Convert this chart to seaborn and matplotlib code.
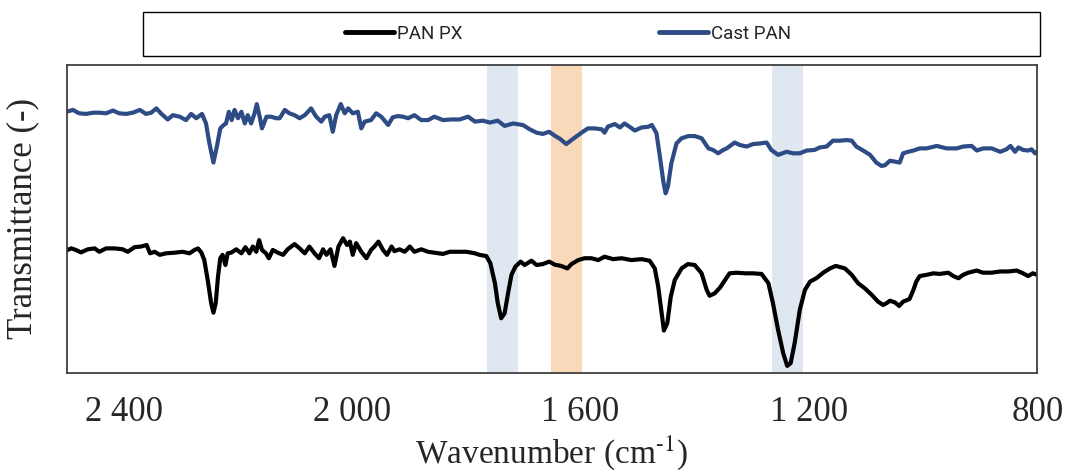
import numpy as np
import pandas as pd
import matplotlib
matplotlib.use("Agg")
import matplotlib.pyplot as plt
import seaborn as sns
from matplotlib.ticker import FixedLocator, FuncFormatter
from matplotlib.patches import Rectangle
from matplotlib.lines import Line2D

# Cast PAN spectrum (wavenumber, transmittance, arbitrary offset scale)
cast_wn = [2501, 2489, 2478, 2466, 2454, 2443, 2431, 2419, 2408, 2396, 2384, 2372, 2361, 2352, 2343, 2334,
           2323, 2314, 2302, 2291, 2282, 2273, 2263, 2256, 2250, 2243, 2237, 2231, 2225, 2221, 2216, 2211,
           2206, 2200, 2194, 2188, 2183, 2177, 2171, 2167, 2162, 2158, 2150, 2142, 2133, 2127, 2118, 2110,
           2101, 2092, 2083, 2072, 2063, 2054, 2048, 2040, 2034, 2028, 2020, 2013, 2007, 1999, 1990, 1984,
           1978, 1967, 1958, 1949, 1937, 1929, 1920, 1911, 1902, 1891, 1879, 1867, 1856, 1841, 1826, 1812,
           1797, 1785, 1771, 1759, 1745, 1733, 1718, 1701, 1689, 1677, 1666, 1655, 1645, 1636, 1625, 1616,
           1604, 1596, 1587, 1575, 1563, 1558, 1552, 1540, 1531, 1523, 1514, 1505, 1493, 1482, 1475, 1467,
           1461, 1455, 1451, 1447, 1441, 1432, 1423, 1411, 1400, 1388, 1376, 1368, 1359, 1350, 1344, 1330,
           1321, 1309, 1298, 1286, 1274, 1266, 1254, 1239, 1228, 1216, 1204, 1190, 1181, 1169, 1158, 1146,
           1134, 1125, 1117, 1105, 1093, 1082, 1073, 1067, 1058, 1049, 1041, 1035, 1026, 1017, 1006, 994,
           976, 959, 941, 930, 915, 906, 895, 880, 865, 854, 847, 839, 833, 825, 816, 810, 804, 800]
cast_t = [84.8, 85.4, 84.3, 84.1, 84.5, 84.5, 84.3, 85.2, 84.3, 84.1, 84.5, 85.4, 84.1, 84.5, 85.9, 84.1,
          82.3, 83.7, 83.2, 82.1, 84.1, 82.7, 84.1, 81.0, 74.5, 68.3, 73.5, 79.4, 80.5, 81.0, 84.8, 82.1,
          85.4, 82.7, 84.8, 81.0, 83.7, 81.0, 84.3, 87.3, 83.2, 79.4, 83.2, 83.2, 82.7, 82.7, 85.4, 84.3,
          83.7, 82.7, 83.7, 85.9, 83.2, 81.6, 83.2, 83.7, 78.3, 83.7, 87.3, 84.3, 85.9, 84.3, 84.8, 79.4,
          81.6, 82.1, 84.3, 83.2, 80.5, 83.0, 83.4, 83.2, 82.7, 83.7, 82.1, 82.1, 83.2, 82.1, 82.3, 82.3,
          83.2, 81.6, 81.9, 81.3, 81.9, 80.2, 81.0, 80.5, 79.1, 78.0, 77.6, 78.3, 77.0, 76.0, 74.3, 75.6,
          77.2, 78.3, 79.4, 79.4, 79.1, 78.0, 80.0, 80.8, 79.7, 81.0, 79.9, 78.7, 79.7, 79.9, 80.5, 77.8,
          70.2, 62.1, 58.3, 60.5, 68.0, 74.5, 76.2, 76.9, 76.9, 76.2, 72.9, 72.4, 71.3, 72.4, 72.9, 74.8,
          74.0, 73.5, 74.3, 74.5, 74.8, 72.4, 70.8, 71.8, 71.3, 71.3, 72.2, 72.4, 73.2, 73.5, 75.4, 75.4,
          75.6, 75.4, 73.5, 72.2, 70.8, 68.3, 67.2, 67.4, 68.9, 68.6, 68.3, 71.3, 71.8, 72.2, 72.9, 72.9,
          73.7, 72.9, 72.9, 73.5, 73.7, 72.2, 72.9, 72.9, 71.8, 72.6, 73.7, 71.8, 73.2, 72.4, 72.2, 72.6, 71.3, 71.8]

# PAN PX spectrum
px_wn = [2501, 2492, 2484, 2475, 2463, 2451, 2443, 2431, 2416, 2402, 2393, 2381, 2370, 2360, 2354, 2346,
         2337, 2326, 2311, 2297, 2285, 2276, 2270, 2264, 2259, 2253, 2247, 2243, 2239, 2235, 2231, 2227,
         2222, 2218, 2212, 2203, 2194, 2187, 2180, 2174, 2168, 2163, 2158, 2151, 2146, 2139, 2130, 2121,
         2113, 2101, 2092, 2083, 2075, 2066, 2058, 2051, 2045, 2038, 2031, 2024, 2016, 2009, 2004, 1999,
         1993, 1984, 1975, 1967, 1961, 1954, 1946, 1939, 1931, 1926, 1917, 1908, 1899, 1891, 1879, 1867,
         1856, 1841, 1829, 1815, 1800, 1785, 1777, 1765, 1758, 1750, 1745, 1739, 1733, 1727, 1721, 1714,
         1705, 1698, 1686, 1677, 1666, 1655, 1645, 1634, 1623, 1616, 1604, 1593, 1581, 1569, 1558, 1543,
         1528, 1511, 1493, 1479, 1470, 1464, 1458, 1454, 1448, 1442, 1435, 1423, 1412, 1400, 1388, 1379,
         1374, 1365, 1356, 1347, 1339, 1327, 1312, 1298, 1283, 1271, 1263, 1254, 1245, 1238, 1232, 1225,
         1216, 1207, 1198, 1187, 1175, 1163, 1153, 1137, 1125, 1114, 1102, 1090, 1079, 1070, 1064, 1058,
         1049, 1042, 1035, 1024, 1017, 1012, 1006, 994, 982, 971, 956, 947, 938, 930, 921, 906,
         895, 880, 865, 851, 836, 825, 816, 808, 800]
px_t = [39.7, 40.4, 39.9, 39.1, 40.1, 40.4, 39.3, 40.4, 40.4, 40.1, 39.3, 40.8, 41.0, 41.5, 38.8, 39.3,
        38.3, 38.8, 39.0, 39.3, 38.8, 39.9, 40.4, 39.0, 36.6, 30.1, 22.6, 19.5, 22.6, 31.2, 37.2, 38.3,
        35.0, 38.8, 39.0, 40.1, 38.8, 40.8, 38.8, 41.0, 39.3, 43.1, 39.9, 38.8, 37.2, 39.9, 39.0, 38.3,
        40.1, 41.8, 40.4, 38.8, 41.0, 38.8, 37.2, 40.1, 38.3, 40.1, 34.7, 41.0, 43.7, 41.5, 42.6, 38.3,
        42.1, 39.3, 37.2, 39.9, 41.0, 42.6, 39.9, 38.3, 41.0, 39.5, 40.1, 39.3, 41.0, 39.3, 40.1, 39.3,
        39.0, 38.6, 39.3, 39.3, 39.3, 38.8, 38.3, 37.9, 35.6, 29.1, 22.6, 17.7, 19.3, 25.8, 31.8, 34.5,
        36.1, 35.0, 36.4, 35.0, 35.3, 36.1, 35.1, 34.7, 33.9, 35.3, 36.6, 37.2, 37.2, 36.6, 37.7, 36.9,
        37.2, 36.6, 36.9, 36.4, 33.9, 28.0, 19.3, 13.7, 16.1, 24.7, 30.1, 33.9, 35.3, 35.0, 32.3, 26.9,
        25.0, 25.8, 27.6, 30.1, 32.3, 32.5, 32.3, 32.3, 32.1, 29.1, 22.6, 13.9, 6.3, 2.2, 3.1, 9.6,
        20.4, 26.9, 29.6, 30.7, 32.5, 33.9, 34.7, 33.9, 31.8, 29.1, 27.4, 25.3, 23.1, 22.0, 22.6, 23.4,
        22.8, 21.7, 23.1, 23.9, 26.9, 29.6, 31.4, 31.8, 32.3, 32.1, 32.5, 31.4, 30.7, 31.8, 32.5, 33.2,
        32.5, 32.5, 32.9, 32.9, 33.2, 32.3, 31.4, 32.3, 31.8]

# highlighted bands
band_lo = [1709, 1597, 1210]
band_hi = [1763, 1652, 1264]
band_colors = ["#dfe7f1", "#fad8ba", "#dfe7f1"]

series = ["PAN PX", "Cast PAN"]
colors = {"PAN PX": "black", "Cast PAN": "#2d4b84"}

df = pd.concat([
    pd.DataFrame({"wavenumber": px_wn, "transmittance": px_t, "sample": "PAN PX"}),
    pd.DataFrame({"wavenumber": cast_wn, "transmittance": cast_t, "sample": "Cast PAN"}),
])

sns.set_style("white")
plt.rcParams["font.family"] = ["Liberation Serif"]
plt.rcParams["mathtext.fontset"] = "stix"

fig = plt.figure(figsize=(10.66, 4.70), dpi=100)
ax = fig.add_axes([66.7 / 1066, 1 - 372.7 / 470, 970.6 / 1066, 307.7 / 470])

for lo, hi, c in zip(band_lo, band_hi, band_colors):
    ax.axvspan(lo, hi, color=c, lw=0, zorder=0)

sns.lineplot(data=df, x="wavenumber", y="transmittance", hue="sample", palette=colors,
             estimator=None, sort=False, lw=3, legend=False, ax=ax)
for ln in ax.lines:
    ln.set_solid_joinstyle("round")
    ln.set_solid_capstyle("round")

ax.set_xlim(2500, 800)
ax.set_ylim(0, 100)

ax.xaxis.set_major_locator(FixedLocator(np.arange(800, 2500, 80)))
ax.xaxis.set_major_formatter(FuncFormatter(
    lambda v, _: f"{int(round(v)):,}".replace(",", " ") if round(v) % 400 == 0 else ""))
ax.tick_params(axis="x", direction="in", length=7, width=1, color="#404040", pad=17, labelsize=25)
ax.set_yticks([])
ax.set_ylabel("Transmittance (-)", fontsize=25, labelpad=20)
ax.set_xlabel(r"Wavenumber (cm$^{\text{-1}}$)", fontsize=24, labelpad=3)
for s in ax.spines.values():
    s.set_visible(True)
    s.set_color("#404040")
    s.set_linewidth(1.3)

# legend in a separate box above the plot
handles = [Line2D([], [], color=colors[s], lw=3.5) for s in series]
fig.legend(handles, series, loc="center", bbox_to_anchor=(568 / 1066, 1 - 34 / 470), ncol=2,
           frameon=False, prop={"family": "Roboto", "size": 13.5},
           handlelength=2.6, handletextpad=0.15, columnspacing=10.5)
fig.add_artist(Rectangle((143 / 1066, 1 - 56 / 470), 897 / 1066, 44 / 470, transform=fig.transFigure,
                         fill=False, edgecolor="black", lw=1))

fig.savefig("out.png", dpi=100)
